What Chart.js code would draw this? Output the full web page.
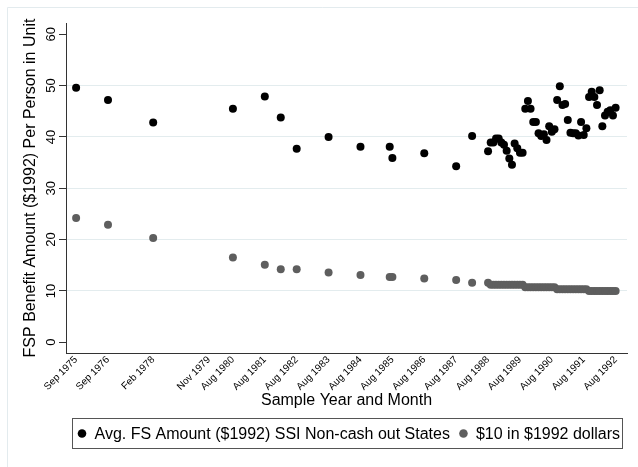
<!DOCTYPE html>
<html>
<head>
<meta charset="utf-8">
<script src="https://cdn.jsdelivr.net/npm/chart.js@4"></script>
<style>
  html, body { margin: 0; padding: 0; background: #fff; }
</style>
</head>
<body>
<canvas id="chart" width="638" height="467"></canvas>
<script>
// survey dates (month year)
const dates = [
  'Sep 1975', 'Sep 1976', 'Feb 1978', 'Aug 1980', 'Aug 1981', 'Feb 1982', 'Aug 1982',
  'Aug 1983', 'Aug 1984', 'Jul 1985', 'Aug 1985', 'Aug 1986', 'Aug 1987', 'Feb 1988',
  'Aug 1988', 'Sep 1988', 'Oct 1988', 'Nov 1988', 'Dec 1988', 'Jan 1989', 'Feb 1989',
  'Mar 1989', 'Apr 1989', 'May 1989', 'Jun 1989', 'Jul 1989', 'Aug 1989', 'Sep 1989',
  'Oct 1989', 'Nov 1989', 'Dec 1989', 'Jan 1990', 'Feb 1990', 'Mar 1990', 'Apr 1990',
  'May 1990', 'Jun 1990', 'Jul 1990', 'Aug 1990', 'Sep 1990', 'Oct 1990', 'Nov 1990',
  'Dec 1990', 'Jan 1991', 'Feb 1991', 'Mar 1991', 'Apr 1991', 'May 1991', 'Jun 1991',
  'Jul 1991', 'Aug 1991', 'Sep 1991', 'Oct 1991', 'Nov 1991', 'Dec 1991', 'Jan 1992',
  'Feb 1992', 'Mar 1992', 'Apr 1992', 'May 1992', 'Jun 1992', 'Jul 1992', 'Aug 1992'
];

// Avg. FS amount ($1992), SSI non-cash-out states
const fsAmount = [
  49.6, 47.2, 42.8, 45.5, 47.9, 43.8, 37.7,
  40.0, 38.1, 38.1, 35.9, 36.8, 34.3, 40.2,
  37.2, 38.9, 38.9, 39.7, 39.7, 38.9, 38.5,
  37.3, 35.8, 34.6, 38.7, 37.8, 36.9, 36.9,
  45.5, 47.0, 45.5, 42.9, 42.9, 40.7, 40.2,
  40.5, 39.4, 42.1, 41.0, 41.5, 47.2, 49.9,
  46.2, 46.4, 43.3, 40.8, 40.7, 40.7, 40.3,
  42.9, 40.4, 41.7, 47.8, 48.8, 47.8, 46.2,
  49.1, 42.1, 44.2, 44.9, 45.2, 44.2, 45.7
];

// $10 expressed in 1992 dollars
const tenDollars = [
  24.2, 22.9, 20.3, 16.5, 15.1, 14.2, 14.2,
  13.6, 13.1, 12.7, 12.7, 12.4, 12.1, 11.6,
  11.6, 11.2, 11.2, 11.2, 11.2, 11.2, 11.2,
  11.2, 11.2, 11.2, 11.2, 11.2, 11.2, 11.2,
  10.7, 10.7, 10.7, 10.7, 10.7, 10.7, 10.7,
  10.7, 10.7, 10.7, 10.7, 10.7, 10.3, 10.3,
  10.3, 10.3, 10.3, 10.3, 10.3, 10.3, 10.3,
  10.3, 10.3, 10.3, 10.0, 10.0, 10.0, 10.0,
  10.0, 10.0, 10.0, 10.0, 10.0, 10.0, 10.0
];

// x axis tick labels
const xTickLabels = [
  'Sep 1975', 'Sep 1976', 'Feb 1978', 'Nov 1979', 'Aug 1980', 'Aug 1981', 'Aug 1982',
  'Aug 1983', 'Aug 1984', 'Aug 1985', 'Aug 1986', 'Aug 1987', 'Aug 1988', 'Aug 1989',
  'Aug 1990', 'Aug 1991', 'Aug 1992'
];
const yTicks = [0, 10, 20, 30, 40, 50, 60];

const MONTHS = ['Jan', 'Feb', 'Mar', 'Apr', 'May', 'Jun', 'Jul', 'Aug', 'Sep', 'Oct', 'Nov', 'Dec'];
function toYear(label) {
  const [m, y] = label.split(' ');
  return Number(y) + MONTHS.indexOf(m) / 12;
}

const FONT = '"Liberation Sans", Arial, Helvetica, sans-serif';

// light frame round the graph
const framePlugin = {
  id: 'frame',
  beforeDraw(chart) {
    const ctx = chart.ctx;
    ctx.save();
    ctx.fillStyle = '#fff';
    ctx.fillRect(0, 0, chart.width, chart.height);
    ctx.strokeStyle = '#e3ebee';
    ctx.lineWidth = 1;
    ctx.beginPath();
    ctx.moveTo(7.5, chart.height);
    ctx.lineTo(7.5, 7.5);
    ctx.lineTo(chart.width, 7.5);
    ctx.stroke();
    ctx.restore();
  }
};

// boxed legend under the axis title
const legendPlugin = {
  id: 'boxLegend',
  afterDraw(chart) {
    const ctx = chart.ctx;
    const left = 72, top = 418.5, w = 550, h = 30;
    ctx.save();
    ctx.strokeStyle = '#555';
    ctx.lineWidth = 1;
    ctx.strokeRect(left + 0.5, top, w, h);
    ctx.font = '16px ' + FONT;
    ctx.textBaseline = 'middle';
    const y = top + h / 2;
    let x = left + 10;
    chart.data.datasets.forEach(ds => {
      ctx.fillStyle = ds.backgroundColor;
      ctx.beginPath();
      ctx.arc(x, y, 4.3, 0, Math.PI * 2);
      ctx.fill();
      ctx.fillStyle = '#000';
      ctx.fillText(ds.label, x + 12.5, y + 1);
      x += 12.5 + ctx.measureText(ds.label).width + 13.5;
    });
    ctx.restore();
  }
};

const ctx = document.getElementById('chart').getContext('2d');
new Chart(ctx, {
  type: 'scatter',
  data: {
    datasets: [
      {
        label: 'Avg. FS Amount ($1992) SSI Non-cash out States',
        data: dates.map((d, i) => ({ x: toYear(d), y: fsAmount[i] })),
        backgroundColor: '#000000',
        pointRadius: 4,
        pointBorderWidth: 0
      },
      {
        label: '$10 in $1992 dollars',
        data: dates.map((d, i) => ({ x: toYear(d), y: tenDollars[i] })),
        backgroundColor: '#5e5e5e',
        pointRadius: 4,
        pointBorderWidth: 0
      }
    ]
  },
  options: {
    responsive: false,
    animation: false,
    events: [],
    layout: { padding: { left: 8, top: 23, right: 11, bottom: 56 } },
    plugins: {
      legend: { display: false },
      tooltip: { enabled: false }
    },
    scales: {
      x: {
        type: 'linear',
        min: 1975.35,
        max: 1992.94,
        afterBuildTicks: scale => { scale.ticks = xTickLabels.map(l => ({ value: toYear(l) })); },
        afterFit: scale => { scale.height = 58; },
        grid: { display: false, drawTicks: false },
        border: { display: true, color: '#333', width: 1 },
        ticks: {
          autoSkip: false,
          minRotation: 45,
          maxRotation: 45,
          padding: 1,
          color: '#000',
          font: { family: FONT, size: 10 },
          callback: (v, i) => xTickLabels[i]
        },
        title: {
          display: true,
          text: 'Sample Year and Month',
          color: '#000',
          font: { family: FONT, size: 16 },
          padding: { top: 0, bottom: 1 }
        }
      },
      y: {
        min: -2.1,
        max: 62.2,
        afterBuildTicks: scale => { scale.ticks = yTicks.map(v => ({ value: v })); },
        afterFit: scale => { scale.width = 58; },
        grid: {
          color: c => (c.tick && (c.tick.value === 0 || c.tick.value === 60)) ? 'rgba(0,0,0,0)' : '#e3ecee',
          tickColor: '#333',
          tickLength: 7
        },
        border: { display: true, color: '#333', width: 1 },
        ticks: {
          minRotation: 90,
          maxRotation: 90,
          crossAlign: 'center',
          padding: 0,
          color: '#000',
          font: { family: FONT, size: 13 }
        },
        title: {
          display: true,
          text: 'FSP Benefit Amount ($1992) Per Person in Unit',
          color: '#000',
          font: { family: FONT, size: 16 },
          padding: { top: 13, bottom: 0 }
        }
      }
    }
  },
  plugins: [framePlugin, legendPlugin]
});
</script>
</body>
</html>
